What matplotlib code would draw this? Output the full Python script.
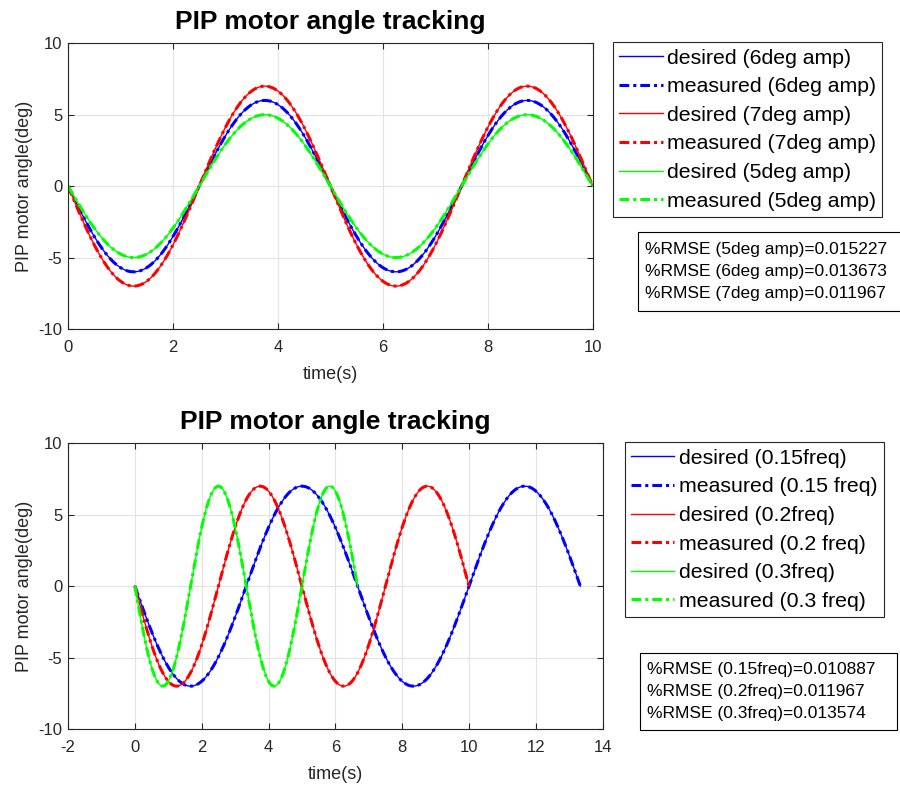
import numpy as np
import matplotlib.pyplot as plt
from matplotlib.patches import Rectangle

plt.rcParams['font.family'] = ['Liberation Sans', 'DejaVu Sans']
plt.rcParams['axes.unicode_minus'] = False

# top panel: amplitude sweep at 0.2 Hz
amp_labels = ['6deg amp', '7deg amp', '5deg amp']
amp_values = [6, 7, 5]
amp_freq = 0.2
amp_duration = 10.0
amp_colors = ['#0000ff', '#ff0000', '#00ff00']
amp_rmse_labels = ['5deg amp', '6deg amp', '7deg amp']
amp_rmse = ['0.015227', '0.013673', '0.011967']

# bottom panel: frequency sweep at 7 deg
freq_labels = ['0.15freq', '0.2freq', '0.3freq']
freq_meas_labels = ['0.15 freq', '0.2 freq', '0.3 freq']
freq_values = [0.15, 0.2, 0.3]
freq_amp = 7
freq_periods = 2
freq_rmse_labels = ['0.15freq', '0.2freq', '0.3freq']
freq_rmse = ['0.010887', '0.011967', '0.013574']

DASHDOT = (3.2, 1.3, 1.0, 1.3)
W, H = 900, 787


def style_axes(ax, xlim, xticks):
    ax.set_xlim(*xlim)
    ax.set_ylim(-10, 10)
    ax.set_xticks(xticks)
    ax.set_yticks([-10, -5, 0, 5, 10])
    ax.grid(True, color='#e3e3e3', linewidth=0.8)
    ax.set_axisbelow(True)
    ax.tick_params(direction='in', top=True, right=True, labelsize=12,
                   colors='#262626', length=4)
    ax.tick_params(axis='x', pad=8)
    ax.tick_params(axis='y', pad=4)
    for s in ax.spines.values():
        s.set_color('#262626')
        s.set_linewidth(0.8)
    ax.set_xlabel('time(s)', fontsize=13, color='#262626', labelpad=8)
    ax.set_ylabel('PIP motor angle(deg)', fontsize=13, color='#262626', labelpad=4)
    ax.set_title('PIP motor angle tracking', fontsize=19, fontweight='bold', pad=10)


def add_legend(ax, xanchor):
    leg = ax.legend(loc='upper left', bbox_to_anchor=(xanchor, 1.003), fontsize=15.3,
                    handlelength=2.05, handletextpad=0.2, labelspacing=0.45,
                    borderpad=0.3, borderaxespad=0, fancybox=False, framealpha=1)
    leg.get_frame().set_edgecolor('#262626')
    leg.get_frame().set_linewidth(0.8)


def add_rmse_box(labels, values, x0, y0, x1, y1):
    # box in pixel coords of the figure, text left aligned inside
    fig.patches.append(Rectangle((x0 / W, 1 - y1 / H), (x1 - x0) / W, (y1 - y0) / H,
                                 transform=fig.transFigure, facecolor='white',
                                 edgecolor='black', linewidth=0.8, zorder=3))
    txt = '\n'.join(f'%RMSE ({l})={v}' for l, v in zip(labels, values))
    fig.text((x0 + 7) / W, 1 - (y0 + y1) / 2 / H, txt, fontsize=12.5, va='center',
             ha='left', linespacing=1.62, zorder=4)


fig = plt.figure(figsize=(9, 7.87), dpi=100)

# ---- top
ax1 = fig.add_axes([0.0756, 0.582, 0.583, 0.363])
t = np.linspace(0, amp_duration, 500)
for lab, a, c in zip(amp_labels, amp_values, amp_colors):
    y = -a * np.sin(2 * np.pi * amp_freq * t)
    ax1.plot(t, y, color=c, linewidth=1, label=f'desired ({lab})')
    ax1.plot(t, y, color=c, linewidth=2.2, dashes=DASHDOT, label=f'measured ({lab})')
style_axes(ax1, (0, 10), [0, 2, 4, 6, 8, 10])
add_legend(ax1, 1.038)
add_rmse_box(amp_rmse_labels, amp_rmse, 638, 232, 910, 311)

# ---- bottom
ax2 = fig.add_axes([0.0756, 0.0737, 0.594, 0.363])
for lab, mlab, f, c in zip(freq_labels, freq_meas_labels, freq_values, amp_colors):
    tt = np.linspace(0, freq_periods / f, 500)
    y = -freq_amp * np.sin(2 * np.pi * f * tt)
    ax2.plot(tt, y, color=c, linewidth=1, label=f'desired ({lab})')
    ax2.plot(tt, y, color=c, linewidth=2.2, dashes=DASHDOT, label=f'measured ({mlab})')
style_axes(ax2, (-2, 14), [-2, 0, 2, 4, 6, 8, 10, 12, 14])
add_legend(ax2, 1.041)
add_rmse_box(freq_rmse_labels, freq_rmse, 640, 653, 897, 730)

fig.savefig('out.png', dpi=100, facecolor='white')
